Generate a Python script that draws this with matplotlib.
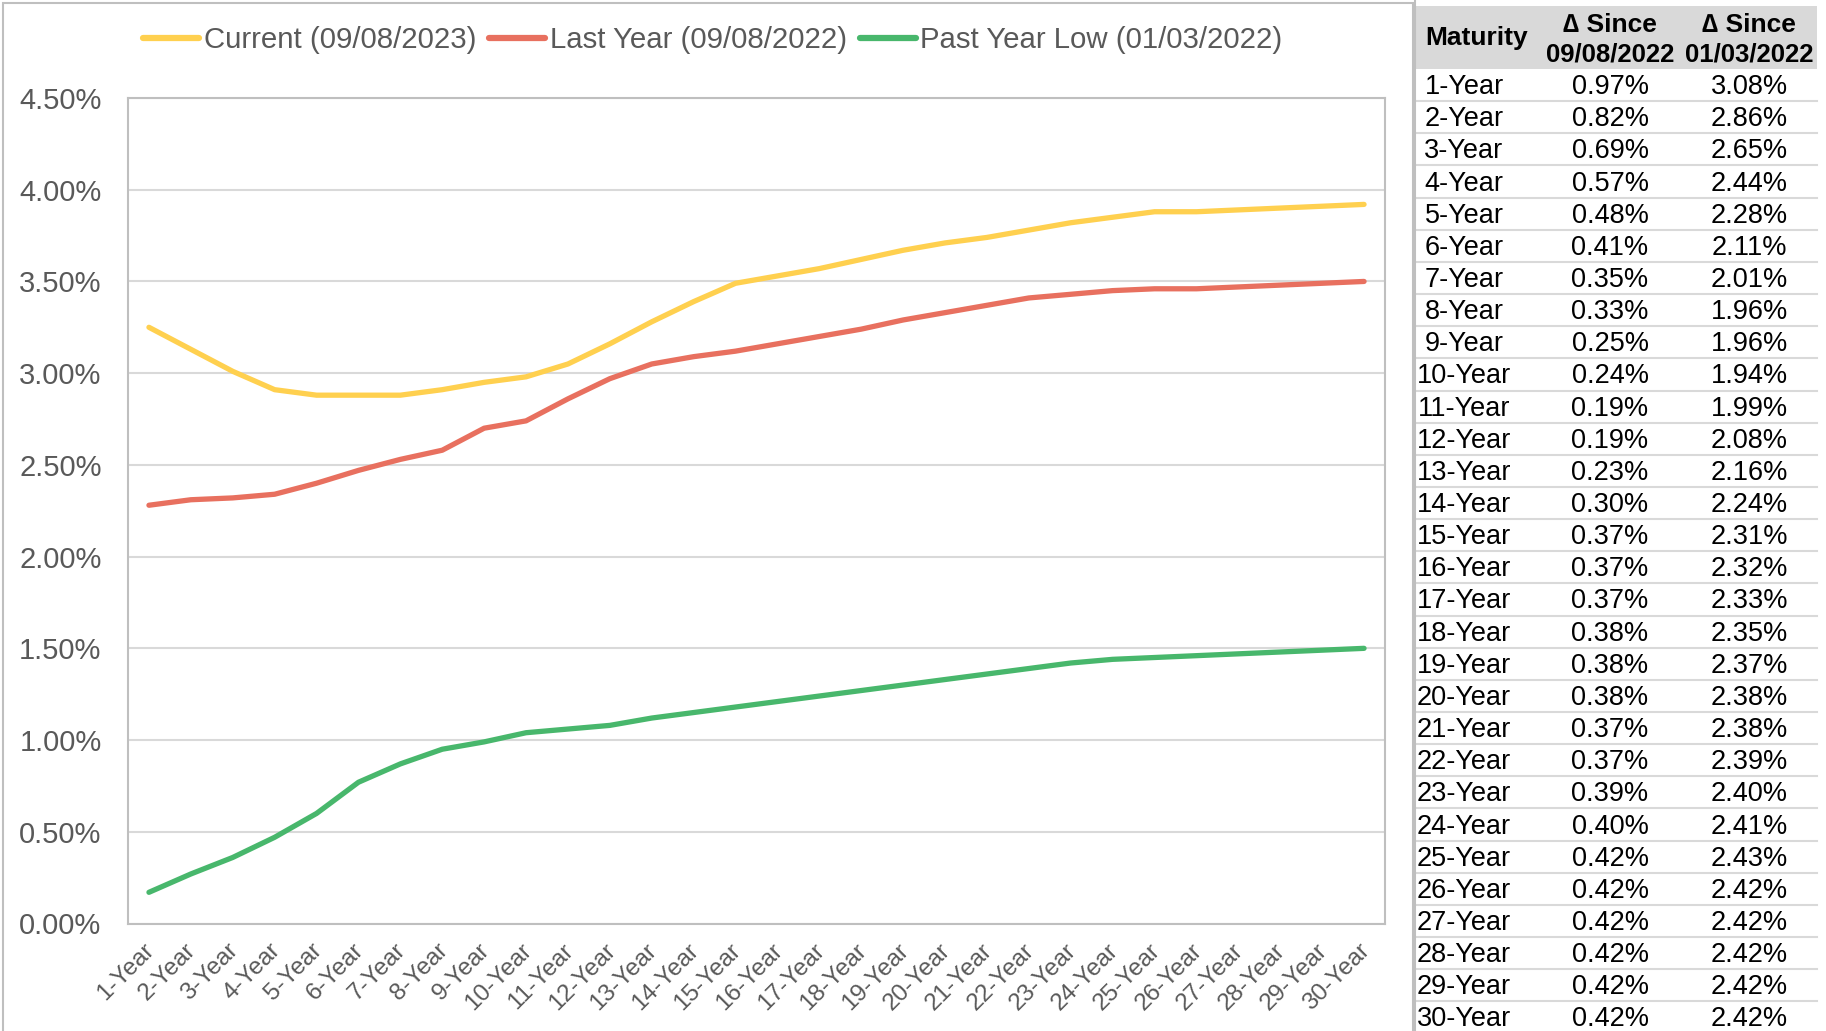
import matplotlib
matplotlib.use("Agg")
import matplotlib.pyplot as plt
import matplotlib.transforms as mtransforms
from matplotlib.patches import Rectangle
from matplotlib.lines import Line2D
from matplotlib.ticker import FuncFormatter, MultipleLocator

plt.rcParams["font.family"] = ["Liberation Sans", "DejaVu Sans"]

# ── Data ─────────────────────────────────────────────────────────────────────

MATURITIES = [f"{i}-Year" for i in range(1, 31)]

current = [3.25, 3.13, 3.01, 2.91, 2.88, 2.88, 2.88, 2.91, 2.95, 2.98,
           3.05, 3.16, 3.28, 3.39, 3.49, 3.53, 3.57, 3.62, 3.67, 3.71,
           3.74, 3.78, 3.82, 3.85, 3.88, 3.88, 3.89, 3.90, 3.91, 3.92]
last_year = [2.28, 2.31, 2.32, 2.34, 2.40, 2.47, 2.53, 2.58, 2.70, 2.74,
             2.86, 2.97, 3.05, 3.09, 3.12, 3.16, 3.20, 3.24, 3.29, 3.33,
             3.37, 3.41, 3.43, 3.45, 3.46, 3.46, 3.47, 3.48, 3.49, 3.50]
past_low = [0.17, 0.27, 0.36, 0.47, 0.60, 0.77, 0.87, 0.95, 0.99, 1.04,
            1.06, 1.08, 1.12, 1.15, 1.18, 1.21, 1.24, 1.27, 1.30, 1.33,
            1.36, 1.39, 1.42, 1.44, 1.45, 1.46, 1.47, 1.48, 1.49, 1.50]

delta_last_year = [0.97, 0.82, 0.69, 0.57, 0.48, 0.41, 0.35, 0.33, 0.25, 0.24,
                   0.19, 0.19, 0.23, 0.30, 0.37, 0.37, 0.37, 0.38, 0.38, 0.38,
                   0.37, 0.37, 0.39, 0.40, 0.42, 0.42, 0.42, 0.42, 0.42, 0.42]
delta_low = [3.08, 2.86, 2.65, 2.44, 2.28, 2.11, 2.01, 1.96, 1.96, 1.94,
             1.99, 2.08, 2.16, 2.24, 2.31, 2.32, 2.33, 2.35, 2.37, 2.38,
             2.38, 2.39, 2.40, 2.41, 2.43, 2.42, 2.42, 2.42, 2.42, 2.42]

SERIES = [
    ("Current (09/08/2023)", current, "#FFD04F"),
    ("Last Year (09/08/2022)", last_year, "#E8705F"),
    ("Past Year Low (01/03/2022)", past_low, "#48B76C"),
]

# ── Figure ───────────────────────────────────────────────────────────────────

W, H = 1826, 1031
fig = plt.figure(figsize=(W / 100, H / 100), dpi=100)


def fx(px):
    return px / W


def fy(py):
    return 1 - py / H


GRID = "#D9D9D9"
BORDER = "#BFBFBF"
TEXT = "#595959"

# outer chart area border
fig.add_artist(Rectangle((fx(3), fy(1040)), fx(1413) - fx(3), fy(3) - fy(1040),
                         transform=fig.transFigure, fill=False,
                         edgecolor=BORDER, linewidth=1.5))

left, right, top, bottom = 128, 1385, 98, 923.5
ax = fig.add_axes([fx(left), fy(bottom), fx(right) - fx(left), fy(top) - fy(bottom)])

x = list(range(len(MATURITIES)))
for label, vals, color in SERIES:
    ax.plot(x, vals, color=color, linewidth=3.8, label=label,
            solid_capstyle="round", solid_joinstyle="round", zorder=3)

ax.set_xlim(-0.5, len(MATURITIES) - 0.5)
ax.set_ylim(0, 4.5)
ax.yaxis.set_major_locator(MultipleLocator(0.5))
ax.yaxis.set_major_formatter(FuncFormatter(lambda v, _: f"{v:.2f}%"))
ax.grid(axis="y", color=GRID, linewidth=1.5, zorder=0)
for s in ax.spines.values():
    s.set_color(BORDER)
    s.set_linewidth(1.5)

ax.tick_params(axis="both", length=0, colors=TEXT)
ax.tick_params(axis="y", labelsize=21, pad=19)
ax.set_xticks(x)
ax.set_xticklabels(MATURITIES, rotation=45, ha="right", va="center",
                   rotation_mode="anchor", fontsize=17.5, color=TEXT)
ax.tick_params(axis="x", pad=17)
offset = mtransforms.ScaledTranslation(0.02, 0, fig.dpi_scale_trans)
for lbl in ax.get_xticklabels():
    lbl.set_transform(lbl.get_transform() + offset)

handles = [Line2D([], [], color=c, linewidth=4.5, solid_capstyle="round") for _, _, c in SERIES]
fig.legend(handles, [s[0] for s in SERIES], loc="center",
           bbox_to_anchor=(fx(713), fy(40)), ncol=3, frameon=False,
           fontsize=21.2, labelcolor=TEXT, handlelength=1.9,
           handletextpad=0.15, columnspacing=0.45)

# ── Table ────────────────────────────────────────────────────────────────────

t_left, t_right = 1415, 1817
head_top, head_bot = 6, 69
row_h = 32.15
col_x = [1464, 1610, 1749]

fig.add_artist(Rectangle((fx(t_left), fy(head_bot)), fx(t_right) - fx(t_left),
                         fy(head_top) - fy(head_bot), transform=fig.transFigure,
                         facecolor="#D9D9D9", edgecolor="none"))
fig.text(fx(1477), fy(38), "Maturity", ha="center", va="center",
         fontsize=19, fontweight="bold", color="black")
for cx, d in zip(col_x[1:], ["09/08/2022", "01/03/2022"]):
    fig.text(fx(cx), fy(25), "\u2206 Since", ha="center", va="center",
             fontsize=19, fontweight="bold", color="black")
    fig.text(fx(cx), fy(55), d, ha="center", va="center",
             fontsize=18.5, fontweight="bold", color="black")

for i, name in enumerate(MATURITIES):
    y0 = head_bot + i * row_h
    yc = y0 + row_h / 2 + 2
    fig.text(fx(col_x[0]), fy(yc), name, ha="center", va="center", fontsize=19.5, color="black")
    fig.text(fx(col_x[1]), fy(yc), f"{delta_last_year[i]:.2f}%", ha="center",
             va="center", fontsize=19.5, color="black")
    fig.text(fx(col_x[2]), fy(yc), f"{delta_low[i]:.2f}%", ha="center",
             va="center", fontsize=19.5, color="black")
    if i > 0:
        fig.add_artist(Line2D([fx(t_left), fx(t_right)], [fy(y0), fy(y0)],
                              transform=fig.transFigure, color=GRID, linewidth=1.5))

fig.add_artist(Line2D([fx(t_left), fx(t_left)], [fy(0), fy(H)],
                      transform=fig.transFigure, color=BORDER, linewidth=1.5))

fig.savefig("out.png", dpi=100, facecolor="white")
